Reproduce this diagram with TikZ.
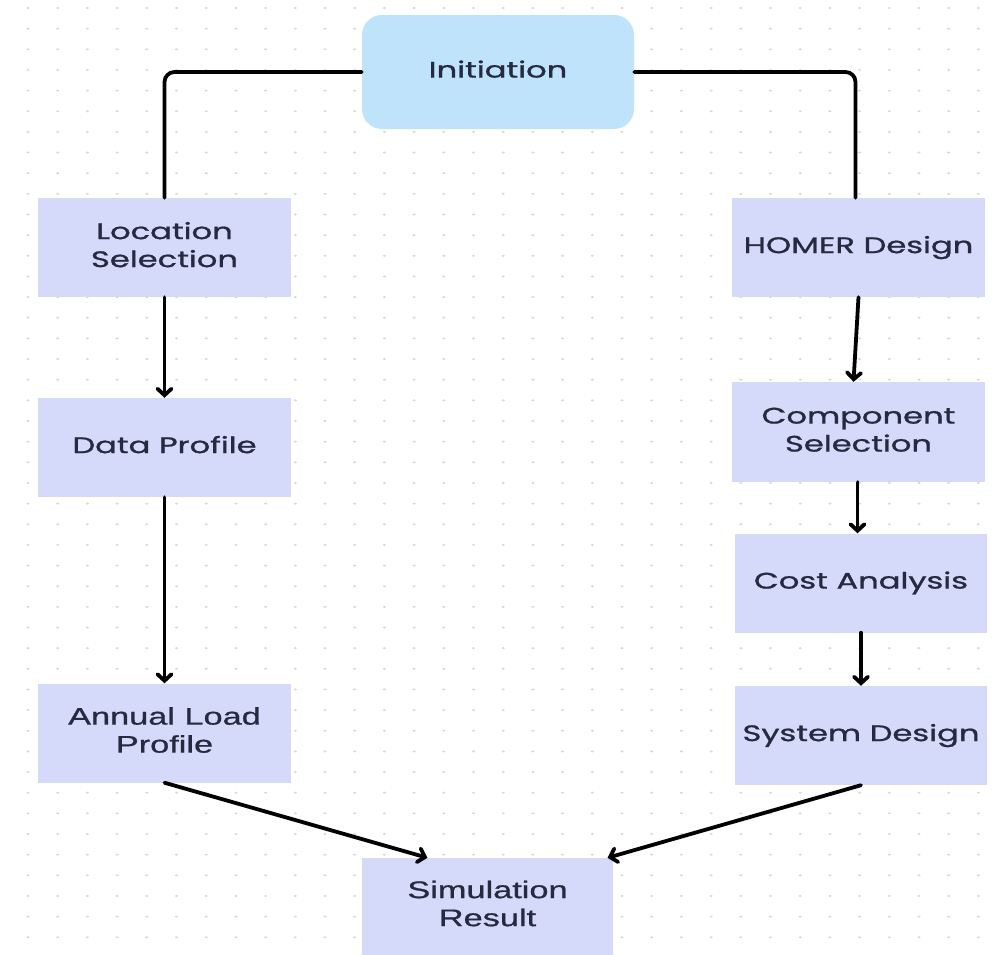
\documentclass[tikz,border=0pt]{standalone}
\usepackage{fontspec}
\usepackage{graphicx}
\setmainfont{Poppins}
\newfontfamily\geofont{Poppins}[FakeBold=0.9]
\newfontfamily\arialish{Liberation Sans}[FakeBold=0.7]
\usetikzlibrary{arrows.meta}

\definecolor{boxfill}{HTML}{D6DAFA}
\definecolor{startfill}{HTML}{BEE3FB}
\definecolor{txt}{HTML}{262A40}
\definecolor{dotc}{HTML}{D8D8D8}

% wide, horizontally stretched label text
\newcommand{\widelabel}[1]{\scalebox{1.43}[1]{\begin{tabular}{@{}c@{}}#1\end{tabular}}}

\tikzset{
  stepbox/.style={fill=boxfill, draw=none, inner sep=0pt, minimum width=253bp,
    minimum height=99bp, text=txt, font=\geofont\fontsize{22.5bp}{28bp}\selectfont},
  sansbox/.style={stepbox, font=\arialish\fontsize{24bp}{28bp}\selectfont},
  startbox/.style={stepbox, fill=startfill, rounded corners=20bp,
    minimum width=272bp, minimum height=114bp},
  conn/.style={line width=3.8bp, black, line cap=round, line join=round},
  arr/.style={conn, -{Straight Barb[length=6.5bp,width=14bp,line cap=round]}}
}

\begin{document}
\begin{tikzpicture}[x=1bp, y=-1bp]
  \useasboundingbox (0,0) rectangle (999,955);
  \fill[white] (0,0) rectangle (999,955);

  % dotted background grid
  \foreach \i in {0,...,33}
    \foreach \j in {0,...,46}
      \fill[dotc] (28+29.7*\i, 8+20.65*\j) ellipse (1.7bp and 1.1bp);

  % process steps
  \node[startbox] (init)   at (498,72)    {\widelabel{Initiation}};
  \node[stepbox]  (loc)    at (164.5,247.5) {\widelabel{Location\\Selection}};
  \node[stepbox]  (data)   at (164.5,447.5) {\widelabel{Data Profile}};
  \node[sansbox]  (annual) at (164.5,733)   {\widelabel{Annual Load\\Profile}};
  \node[stepbox]  (homer)  at (858.5,247.5) {\widelabel{HOMER Design}};
  \node[stepbox, minimum height=100bp]
                  (comp)   at (858.5,432)   {\widelabel{Component\\Selection}};
  \node[stepbox, minimum width=252bp]
                  (cost)   at (861,583)     {\widelabel{Cost Analysis}};
  \node[stepbox, minimum width=252bp]
                  (sys)    at (861,735.5)   {\widelabel{System Design}};
  \node[sansbox, minimum width=251bp, minimum height=97bp]
                  (sim)    at (487.5,906.5) {\widelabel{Simulation\\Result}};

  % connectors
  \draw[conn, rounded corners=10bp] (init.west) -| (loc.north);
  \draw[conn, rounded corners=10bp] (init.east) -| ([xshift=-3bp]homer.north);
  \draw[arr] (loc.south) -- (data.north);
  \draw[arr] (data.south) -- (annual.north);
  \draw[arr] (homer.south) -- ([xshift=-5bp]comp.north);
  \draw[arr] ([xshift=-1bp]comp.south) -- ([xshift=-1bp]comp.south |- cost.north);
  \draw[arr] (cost.south) -- (sys.north);
  \draw[arr] (annual.south) -- ([xshift=-60bp]sim.north);
  \draw[arr] (sys.south) -- ([xshift=120bp]sim.north);
\end{tikzpicture}
\end{document}
